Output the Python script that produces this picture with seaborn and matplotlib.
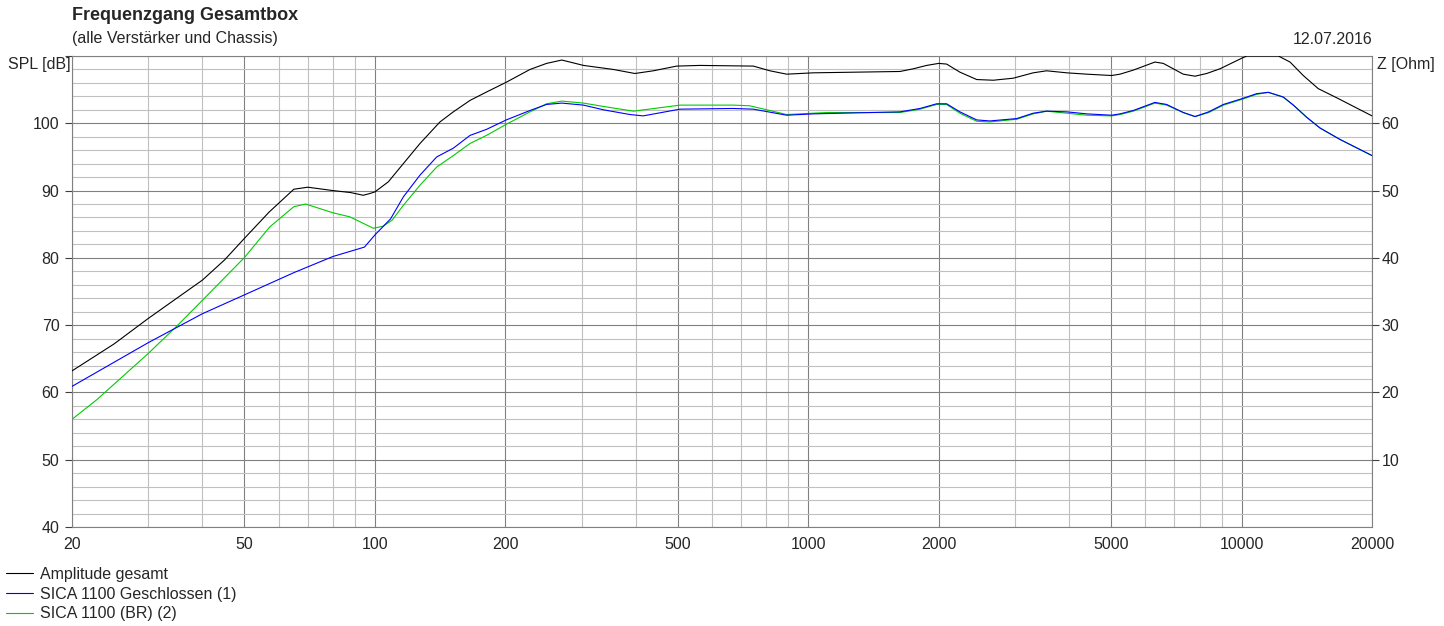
"""Frequenzgang Gesamtbox: SPL of the complete box and both woofer variants."""

import matplotlib.pyplot as plt
import seaborn as sns

# Amplitude gesamt
freq_total = [20, 25, 30, 34.9, 40, 45, 50, 57, 65, 70, 80, 88, 94, 97.3, 100,
              107.4, 116.3, 127.1, 141.3, 151.7, 165.8, 181, 201, 228, 249,
              270, 303, 355, 398, 439, 497, 562, 747, 816, 892, 1028, 1629,
              1748, 1876, 2000, 2086, 2239, 2448, 2674, 2972, 3305, 3549, 3950,
              4392, 5015, 5242, 5624, 6310, 6598, 7336, 7808, 8310, 8917,
              10070, 10290, 12160, 12940, 13880, 15030, 16570, 20000]
spl_total = [63.2, 67.2, 71.0, 74.0, 76.7, 79.7, 82.9, 86.8, 90.2, 90.5, 90.0,
             89.7, 89.3, 89.56, 89.8, 91.3, 94.0, 97.0, 100.2, 101.7, 103.4,
             104.65, 106.1, 108.0, 108.9, 109.4, 108.6, 108.0, 107.4, 107.8,
             108.5, 108.6, 108.5, 107.8, 107.3, 107.5, 107.7, 108.1, 108.6,
             108.9, 108.8, 107.6, 106.5, 106.4, 106.7, 107.5, 107.8, 107.5,
             107.3, 107.1, 107.3, 107.9, 109.1, 108.9, 107.3, 107.0, 107.4,
             108.1, 109.75, 110.0, 110.0, 109.1, 107.1, 105.15, 103.8, 101.1]

# SICA 1100 Geschlossen (1)
freq_closed = [20, 30, 40, 50, 65, 80, 94.6, 100, 108.7, 116.3, 127.1, 138.9,
               151.7, 165.8, 181, 201, 228, 249, 270, 303, 337, 388, 416, 506,
               671, 747, 892, 1028, 1629, 1811, 1979, 2086, 2239, 2448, 2626,
               3028, 3305, 3549, 3950, 4392, 5015, 5242, 5624, 6310, 6715, 7336,
               7808, 8400, 9080, 10070, 10830, 11530, 12480, 13170, 14130,
               15170, 16870, 20000]
spl_closed = [60.9, 67.4, 71.7, 74.5, 77.8, 80.2, 81.6, 83.4, 85.8, 89.05, 92.3,
              95.0, 96.3, 98.2, 99.1, 100.5, 101.9, 102.8, 103.0, 102.7, 102.0,
              101.3, 101.1, 102.1, 102.2, 102.1, 101.2, 101.4, 101.7, 102.2,
              102.9, 102.9, 101.7, 100.5, 100.35, 100.7, 101.5, 101.8, 101.7,
              101.4, 101.2, 101.4, 101.9, 103.1, 102.8, 101.6, 101.0, 101.7,
              102.8, 103.7, 104.4, 104.6, 103.9, 102.7, 100.9, 99.3, 97.6, 95.2]

# SICA 1100 (BR) (2)
freq_br = [20, 22.8, 30, 34.9, 40, 50, 57.2, 65, 69.2, 80, 87.5, 99.2, 104.4,
           109.6, 116.3, 127.1, 138.9, 151.7, 165.8, 181, 201, 228, 249, 270,
           303, 337, 395, 506, 671, 733, 892, 1103, 1629, 1811, 1979, 2086,
           2239, 2448, 2626, 3028, 3305, 3549, 3950, 4392, 5015, 5242, 5624,
           6310, 6715, 7336, 7808, 8400, 9080, 10070, 10830, 11530, 12480,
           13170, 14130, 15170, 16870, 20000]
spl_br = [56.0, 58.9, 65.8, 69.85, 73.7, 80.05, 84.6, 87.6, 88.0, 86.7, 86.1,
          84.4, 84.7, 85.6, 87.8, 90.8, 93.5, 95.2, 97.0, 98.2, 99.85, 101.7,
          102.9, 103.3, 103.0, 102.5, 101.8, 102.7, 102.7, 102.6, 101.3, 101.6,
          101.6, 102.1, 102.8, 102.8, 101.5, 100.3, 100.2, 100.6, 101.4, 101.8,
          101.5, 101.2, 101.1, 101.3, 101.8, 103.0, 102.7, 101.6, 101.0, 101.6,
          102.7, 103.6, 104.3, 104.6, 103.9, 102.7, 100.9, 99.3, 97.6, 95.2]

x_major = [20, 50, 100, 200, 500, 1000, 2000, 5000, 10000, 20000]
x_minor = [30, 40, 60, 70, 80, 90, 300, 400, 600, 700, 800, 900,
           3000, 4000, 6000, 7000, 8000, 9000]
y_major = [40, 50, 60, 70, 80, 90, 100, 110]
y_labels = ["40", "50", "60", "70", "80", "90", "100", ""]
z_ticks = [10, 20, 30, 40, 50, 60]


def main():
    sns.set_style("white")
    plt.rcParams["font.family"] = ["Liberation Sans", "DejaVu Sans"]
    plt.rcParams["font.size"] = 11.5

    fig = plt.figure(figsize=(14.44, 6.26), dpi=100)
    ax = fig.add_axes([72 / 1444, 1 - 527 / 626, 1300 / 1444, 471 / 626])

    sns.lineplot(x=freq_total, y=spl_total, ax=ax, color="black",
                 linewidth=0.8, label="Amplitude gesamt", zorder=4)
    sns.lineplot(x=freq_closed, y=spl_closed, ax=ax, color="#0000ff",
                 linewidth=0.8, label="SICA 1100 Geschlossen (1)", zorder=3)
    sns.lineplot(x=freq_br, y=spl_br, ax=ax, color="#00cc00",
                 linewidth=0.8, label="SICA 1100 (BR) (2)", zorder=2)

    ax.set_xscale("log")
    ax.set_xlim(20, 20000)
    ax.set_ylim(40, 110)

    # grid: dark at 50/100/200..., light in between; every 2 dB horizontally
    ax.set_xticks(x_major, labels=[str(f) for f in x_major])
    ax.set_xticks(x_minor, minor=True)
    ax.set_yticks(y_major, labels=y_labels)
    ax.set_yticks(range(40, 111, 2), minor=True)

    ax.grid(which="minor", color="#c0c0c0", linewidth=0.8)
    ax.grid(which="major", color="#808080", linewidth=0.8)
    ax.set_axisbelow(True)

    ax.tick_params(which="minor", length=0, labelleft=False, labelbottom=False)
    ax.tick_params(axis="y", which="major", length=5, width=0.8,
                   color="#404040", pad=4, labelsize=11.5)
    ax.tick_params(axis="x", which="major", length=5, width=0.8,
                   color="#404040", pad=2, labelsize=11.5)
    for spine in ax.spines.values():
        spine.set_color("#808080")
        spine.set_linewidth(0.8)

    # Impedance scale on the right
    az = ax.twinx()
    az.set_ylim(0, 70)
    az.set_yticks(z_ticks, labels=[str(z) for z in z_ticks])
    az.tick_params(axis="y", length=5, width=0.8, color="#404040", pad=2,
                   labelsize=11.5)
    az.grid(False)
    for spine in az.spines.values():
        spine.set_visible(False)

    handles, labels = ax.get_legend_handles_labels()
    ax.get_legend().remove()
    fig.legend(handles, labels, loc="upper left",
               bbox_to_anchor=(6 / 1444, 1 - 567 / 626), frameon=False,
               borderpad=0, borderaxespad=0, handlelength=1.7,
               handletextpad=0.4, labelspacing=0.29, fontsize=11.5)

    fig.text(72 / 1444, 1 - 15 / 626, "Frequenzgang Gesamtbox",
             fontsize=13, fontweight="bold", va="center", ha="left")
    fig.text(72 / 1444, 1 - 39 / 626, "(alle Verstärker und Chassis)",
             fontsize=11.5, va="center", ha="left")
    fig.text(1372 / 1444, 1 - 40 / 626, "12.07.2016",
             fontsize=11.5, va="center", ha="right")
    fig.text(8 / 1444, 1 - 65 / 626, "SPL [dB]",
             fontsize=11.5, va="center", ha="left")
    fig.text(1377 / 1444, 1 - 65 / 626, "Z [Ohm]",
             fontsize=11.5, va="center", ha="left")

    fig.savefig("out.png", dpi=100)
    plt.close(fig)


if __name__ == "__main__":
    main()
